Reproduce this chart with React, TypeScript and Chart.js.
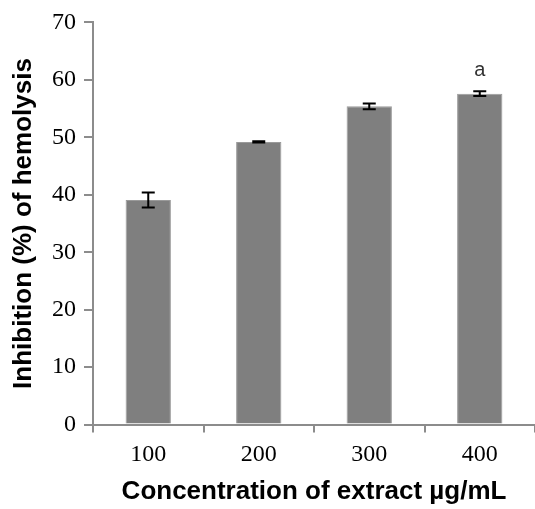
import React, { useEffect, useRef } from "react";
import { Chart, registerables } from "chart.js";

Chart.register(...registerables);

const categories = ["100", "200", "300", "400"];
const values = [39.1, 49.2, 55.4, 57.6];
const errors = [1.3, 0.1, 0.5, 0.4];
const letters = ["", "", "", "a"];
const yTicks = [0, 10, 20, 30, 40, 50, 60, 70];

const errorBarPlugin = {
  id: "errorBars",
  afterDatasetsDraw(chart: any) {
    const ctx = chart.ctx;
    const meta = chart.getDatasetMeta(0);
    const y = chart.scales.y;
    ctx.save();
    meta.data.forEach((bar: any, i: number) => {
      const x = bar.x;
      const top = y.getPixelForValue(values[i] + errors[i]);
      const bot = y.getPixelForValue(values[i] - errors[i]);
      ctx.strokeStyle = "#000";
      ctx.lineWidth = 2;
      ctx.beginPath();
      ctx.moveTo(x, top);
      ctx.lineTo(x, bot);
      ctx.moveTo(x - 6.5, top);
      ctx.lineTo(x + 6.5, top);
      ctx.moveTo(x - 6.5, bot);
      ctx.lineTo(x + 6.5, bot);
      ctx.stroke();
      if (letters[i]) {
        ctx.fillStyle = "#333";
        ctx.font = "20px 'Liberation Sans', Arial, sans-serif";
        ctx.textAlign = "center";
        ctx.textBaseline = "middle";
        ctx.fillText(letters[i], x, top - 21);
      }
    });
    ctx.restore();
  },
};

export default function App() {
  const ref = useRef<HTMLCanvasElement | null>(null);
  useEffect(() => {
    document.body.style.margin = "0";
    const chart = new Chart(ref.current as HTMLCanvasElement, {
      type: "bar",
      data: {
        labels: categories,
        datasets: [
          {
            data: values,
            backgroundColor: "#7f7f7f",
            borderColor: "#9a9a9a",
            borderWidth: 1,
            barPercentage: 0.41,
            categoryPercentage: 1,
          },
        ],
      },
      options: {
        animation: false,
        responsive: false,
        maintainAspectRatio: false,
        layout: { padding: { top: 16, right: 0, left: 0, bottom: 3 } },
        plugins: { legend: { display: false }, tooltip: { enabled: false } },
        scales: {
          x: {
            border: { display: true, color: "#8c8c8c", width: 2 },
            grid: {
              display: true,
              offset: true,
              drawOnChartArea: false,
              drawTicks: true,
              tickLength: 8,
              color: "#8c8c8c",
              lineWidth: 2,
            },
            ticks: {
              color: "#000",
              font: { family: "'Liberation Serif', 'Times New Roman', serif", size: 24 },
              padding: 8,
            },
            title: {
              display: true,
              text: "Concentration of extract µg/mL",
              color: "#000",
              font: { family: "'Liberation Sans', Arial, sans-serif", size: 26, weight: "bold", lineHeight: 1.1 },
              padding: { top: 0, bottom: 0 },
            },
          },
          y: {
            min: 0,
            max: 70,
            afterBuildTicks(scale: any) {
              scale.ticks = yTicks.map((v) => ({ value: v }));
            },
            afterFit(scale: any) {
              scale.width = 93;
            },
            border: { display: true, color: "#8c8c8c", width: 2 },
            grid: {
              display: true,
              drawOnChartArea: false,
              drawTicks: true,
              tickLength: 9,
              color: "#8c8c8c",
              lineWidth: 2,
            },
            ticks: {
              color: "#000",
              font: { family: "'Liberation Serif', 'Times New Roman', serif", size: 24 },
              padding: 8,
            },
            title: {
              display: true,
              text: "Inhibition (%) of hemolysis",
              color: "#000",
              font: { family: "'Liberation Sans', Arial, sans-serif", size: 26, weight: "bold" },
              padding: { top: 8, bottom: 0 },
            },
          },
        },
      },
      plugins: [errorBarPlugin],
    });
    return () => chart.destroy();
  }, []);
  return (
    <div style={{ position: "fixed", left: 0, top: 0, width: 535, height: 509, background: "#fff" }}>
      <canvas ref={ref} width={535} height={509} style={{ width: 535, height: 509 }} />
    </div>
  );
}
